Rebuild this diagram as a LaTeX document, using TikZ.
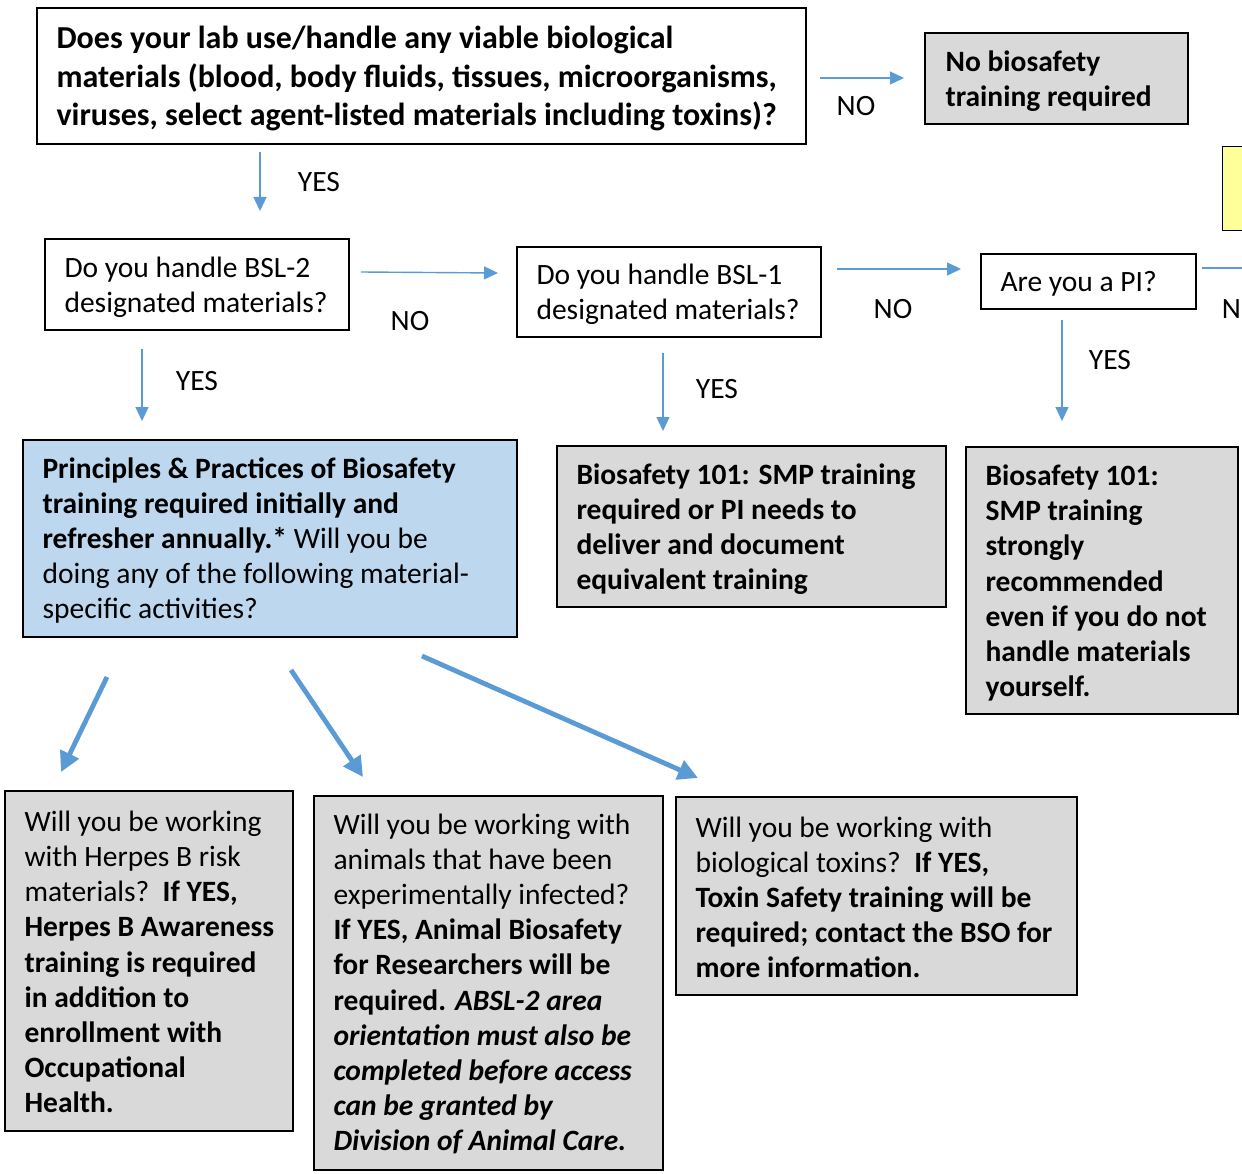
\documentclass[tikz,border=0pt]{standalone}
\usepackage{fontspec}
\setmainfont{Carlito}
\usetikzlibrary{arrows.meta}
\definecolor{arrowblue}{HTML}{5B9BD5}
\definecolor{boxgray}{HTML}{D9D9D9}
\definecolor{boxblue}{HTML}{BDD7EE}
\definecolor{paleyellow}{HTML}{FFFF99}
\tikzset{
  every node/.style={font=\fontsize{29.5}{35}\selectfont},
  plainbox/.style={draw=black, line width=1.3pt, fill=white, inner sep=0pt},
  graybox/.style={plainbox, fill=boxgray},
  bluebox/.style={plainbox, fill=boxblue},
  txt/.style={anchor=west, align=left, inner sep=0pt, yshift=-2.5pt},
  lbl/.style={inner sep=0pt},
  thinarrow/.style={draw=arrowblue, line width=1.4pt, -{Triangle[length=14pt,width=13pt]}},
  thickarrow/.style={draw=arrowblue, line width=4.8pt, -{Triangle[length=20pt,width=20pt]}},
}
\begin{document}
\begin{tikzpicture}[x=1pt,y=-1pt]
\useasboundingbox (0,0) rectangle (1242,1174);
\clip (0,0) rectangle (1242,1174);

% boxes
\node[plainbox, minimum width=769pt, minimum height=136pt] (top) at (421.5,76) {};
\node[txt, font=\fontsize{32}{38.5}\selectfont\bfseries] (toptxt) at ([xshift=20pt]top.west)
  {Does your lab use/handle any viable biological\\materials (blood, body fluids, tissues, microorganisms,\\viruses, select agent-listed materials including toxins)?};

\node[graybox, minimum width=263pt, minimum height=91pt] (nobio) at (1056.5,78.5) {};
\node[txt, font=\fontsize{29.5}{35}\selectfont\bfseries] (nobiotxt) at ([xshift=21pt]nobio.west)
  {No biosafety\\training required};

\node[plainbox, fill=paleyellow, minimum width=80pt, minimum height=84pt, anchor=north west] (yellow) at (1222,146) {};

\node[plainbox, minimum width=304pt, minimum height=91pt] (bsl2) at (197,284.5) {};
\node[txt] (bsl2txt) at ([xshift=20pt]bsl2.west) {Do you handle BSL-2\\designated materials?};

\node[plainbox, minimum width=304pt, minimum height=90pt] (bsl1) at (669,292) {};
\node[txt] (bsl1txt) at ([xshift=20pt]bsl1.west) {Do you handle BSL-1\\designated materials?};

\node[plainbox, minimum width=215pt, minimum height=55pt] (pi) at (1088.5,281.5) {};
\node[txt] (pitxt) at ([xshift=20pt]pi.west) {Are you a PI?};

\node[bluebox, minimum width=494pt, minimum height=197pt] (pp) at (270,538.5) {};
\node[txt] (pptxt) at ([xshift=20pt]pp.west)
  {\textbf{Principles \& Practices of Biosafety}\\\textbf{training required initially and}\\\textbf{refresher annually.*} Will you be\\doing any of the following material-\\specific activities?};

\node[graybox, minimum width=389pt, minimum height=161pt] (b101) at (751.5,526.5) {};
\node[txt, font=\fontsize{29.5}{35}\selectfont\bfseries] (b101txt) at ([xshift=20pt]b101.west)
  {Biosafety 101: SMP training\\required or PI needs to\\deliver and document\\equivalent training};

\node[graybox, minimum width=272pt, minimum height=267pt] (smp) at (1102,580.5) {};
\node[txt, font=\fontsize{29.5}{35.2}\selectfont\bfseries] (smptxt) at ([xshift=20pt]smp.west)
  {Biosafety 101:\\SMP training\\strongly\\recommended\\even if you do not\\handle materials\\yourself.};

\node[graybox, minimum width=288pt, minimum height=340pt] (herpes) at (149,961) {};
\node[txt, font=\fontsize{29.5}{35.2}\selectfont, yshift=1.5pt] (herpestxt) at ([xshift=20pt]herpes.west)
  {Will you be working\\with Herpes B risk\\materials?\ \ \textbf{If YES,}\\\textbf{Herpes B Awareness}\\\textbf{training is required}\\\textbf{in addition to}\\\textbf{enrollment with}\\\textbf{Occupational}\\\textbf{Health.}};

\node[graybox, minimum width=349pt, minimum height=374pt] (animal) at (488.5,983) {};
\node[txt, font=\fontsize{29.5}{35.2}\selectfont, yshift=1.5pt] (animaltxt) at ([xshift=20pt]animal.west)
  {Will you be working with\\animals that have been\\experimentally infected?\\\textbf{If YES, Animal Biosafety}\\\textbf{for Researchers will be}\\\textbf{required. \textit{ABSL-2 area}}\\\textbf{\textit{orientation must also be}}\\\textbf{\textit{completed before access}}\\\textbf{\textit{can be granted by}}\\\textbf{\textit{Division of Animal Care.}}};

\node[graybox, minimum width=401pt, minimum height=198pt] (toxin) at (876.5,896) {};
\node[txt, yshift=1.5pt] (toxintxt) at ([xshift=20pt]toxin.west)
  {Will you be working with\\biological toxins?\ \ \textbf{If YES,}\\\textbf{Toxin Safety training will be}\\\textbf{required; contact the BSO for}\\\textbf{more information.}};

% connector end points
\coordinate (a1s) at (820,78);   \coordinate (a1e) at (904,78);
\coordinate (a2s) at (260,152);  \coordinate (a2e) at (260,211);
\coordinate (a3s) at (361,272);  \coordinate (a3e) at (498,273);
\coordinate (a4s) at (837,269);  \coordinate (a4e) at (961,269);
\coordinate (a5s) at (1202,268); \coordinate (a5e) at (1250,268);
\coordinate (a6s) at (142,349);  \coordinate (a6e) at (142,421);
\coordinate (a7s) at (663,353);  \coordinate (a7e) at (663,431);
\coordinate (a8s) at (1062,320); \coordinate (a8e) at (1062,421);
\coordinate (d1s) at (107,677);  \coordinate (d1e) at (61,772);
\coordinate (d2s) at (291,670);  \coordinate (d2e) at (363,777);
\coordinate (d3s) at (422,656);  \coordinate (d3e) at (698,778);

\draw[thinarrow] (a1s) -- (a1e);
\draw[thinarrow] (a2s) -- (a2e);
\draw[thinarrow] (a3s) -- (a3e);
\draw[thinarrow] (a4s) -- (a4e);
\draw[draw=arrowblue, line width=1.4pt] (a5s) -- (a5e);
\draw[thinarrow] (a6s) -- (a6e);
\draw[thinarrow] (a7s) -- (a7e);
\draw[thinarrow] (a8s) -- (a8e);
\draw[thickarrow] (d1s) -- (d1e);
\draw[thickarrow] (d2s) -- (d2e);
\draw[thickarrow] (d3s) -- (d3e);

% labels
\node[lbl] (l1) at (856,106) {NO};
\node[lbl] (l2) at (319,182) {YES};
\node[lbl] (l3) at (410,321) {NO};
\node[lbl] (l4) at (893,309) {NO};
\node[lbl, anchor=east] (l5) at (1241,309) {N};
\node[lbl] (l6) at (197,381) {YES};
\node[lbl] (l7) at (717,389) {YES};
\node[lbl] (l8) at (1110,360) {YES};
\end{tikzpicture}
\end{document}
